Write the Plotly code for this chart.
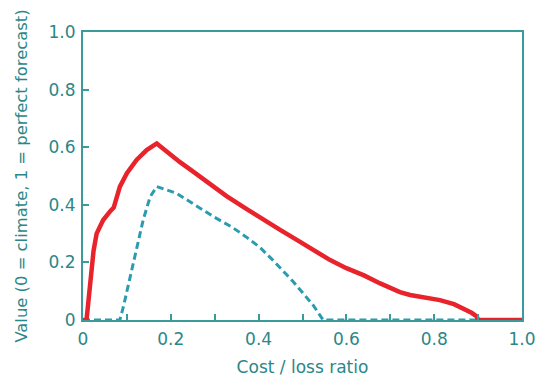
import plotly.graph_objects as go

# Red (solid) curve: cost/loss ratio vs value
red_x = [0.0, 0.008, 0.012, 0.018, 0.024, 0.031, 0.040, 0.046, 0.062, 0.070, 0.084, 0.10, 0.122,
         0.145, 0.168, 0.195, 0.221, 0.251, 0.297, 0.327, 0.373, 0.403, 0.449, 0.487, 0.525, 0.563,
         0.600, 0.640, 0.677, 0.722, 0.745, 0.78, 0.813, 0.845, 0.866, 0.885, 0.897, 0.90, 1.0]
red_y = [0.0, 0.0, 0.06, 0.17, 0.24, 0.30, 0.33, 0.347, 0.378, 0.39, 0.463, 0.51, 0.556,
         0.59, 0.613, 0.578, 0.548, 0.515, 0.462, 0.43, 0.385, 0.355, 0.313, 0.278, 0.243, 0.208,
         0.18, 0.155, 0.127, 0.097, 0.087, 0.078, 0.069, 0.055, 0.041, 0.025, 0.012, 0.0, 0.0]

# Blue (dashed) curve
blue_x = [0.0, 0.084, 0.092, 0.107, 0.122, 0.137, 0.153, 0.168, 0.213, 0.297, 0.34, 0.373,
          0.403, 0.433, 0.479, 0.525, 0.547, 0.90]
blue_y = [0.0, 0.0, 0.046, 0.15, 0.255, 0.347, 0.428, 0.463, 0.44, 0.359, 0.322, 0.287,
          0.252, 0.207, 0.133, 0.05, 0.0, 0.0]

x_ticks = [0, 0.2, 0.4, 0.6, 0.8, 1.0]
x_labels = ["0", "0.2", "0.4", "0.6", "0.8", "1.0"]
y_ticks = [0, 0.2, 0.4, 0.6, 0.8, 1.0]
y_labels = ["0", "0.2", "0.4", "0.6", "0.8", "1.0"]

teal = "#3b9a9a"
text_teal = "#2b8787"
font_family = "DejaVu Sans, sans-serif"

fig = go.Figure()
fig.add_trace(go.Scatter(x=blue_x, y=blue_y, mode="lines",
                         line=dict(color="#2b9bb0", width=3, dash="7px,4px"),
                         showlegend=False, cliponaxis=False))
fig.add_trace(go.Scatter(x=red_x, y=red_y, mode="lines",
                         line=dict(color="#e8232b", width=4.5),
                         showlegend=False, cliponaxis=False))

fig.update_layout(
    width=536, height=381,
    margin=dict(l=83, r=14, t=32, b=61),
    paper_bgcolor="white", plot_bgcolor="white",
    font=dict(family=font_family, color=text_teal, size=17),
)
fig.update_xaxes(range=[0, 1], tickvals=x_ticks, ticktext=x_labels, automargin=False,
                 showgrid=False, zeroline=False,
                 showline=True, linecolor=teal, linewidth=2, mirror=True,
                 ticks="inside", ticklen=6, tickcolor=teal, tickwidth=1.5,
                 ticklabelstandoff=3,
                 minor=dict(dtick=0.1, tick0=0, ticks="inside", ticklen=6, tickcolor=teal, tickwidth=1.5),
                 tickfont=dict(size=17, color=text_teal, family=font_family),
                 title=dict(text="Cost / loss ratio", font=dict(size=17, color=text_teal, family=font_family), standoff=13))
fig.update_yaxes(range=[0, 1], tickvals=y_ticks, ticktext=y_labels, automargin=False,
                 showgrid=False, zeroline=False,
                 showline=True, linecolor=teal, linewidth=2, mirror=True,
                 ticks="inside", ticklen=6, tickcolor=teal, tickwidth=1.5,
                 ticklabelstandoff=2,
                 tickfont=dict(size=17, color=text_teal, family=font_family),
                 title=dict(text="Value (0 = climate, 1 = perfect forecast)", font=dict(size=16.4, color=text_teal, family=font_family), standoff=17))

fig.write_html("out.html")
